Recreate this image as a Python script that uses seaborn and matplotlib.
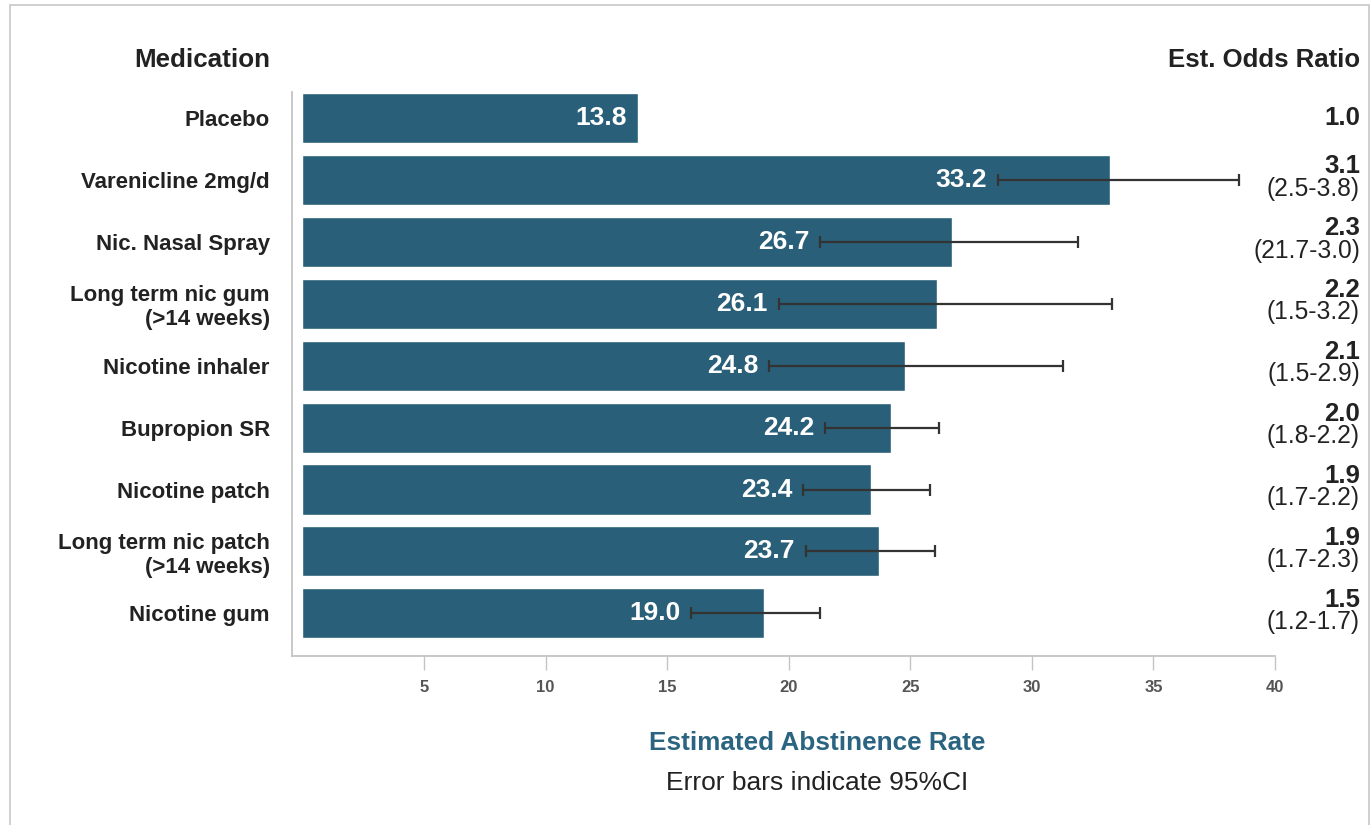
import matplotlib
matplotlib.use("Agg")
import matplotlib.pyplot as plt
from matplotlib.patches import Rectangle
from matplotlib.transforms import blended_transform_factory
import seaborn as sns
import pandas as pd
import numpy as np

# Smoking-cessation medications and their estimated abstinence rates (%)
medications = [
    "Placebo",
    "Varenicline 2mg/d",
    "Nic. Nasal Spray",
    "Long term nic gum\n(>14 weeks)",
    "Nicotine inhaler",
    "Bupropion SR",
    "Nicotine patch",
    "Long term nic patch\n(>14 weeks)",
    "Nicotine gum",
]
abstinence_rate = [13.8, 33.2, 26.7, 26.1, 24.8, 24.2, 23.4, 23.7, 19.0]
# 95% confidence interval of the abstinence rate (placebo has none shown)
ci_low = [np.nan, 28.6, 21.3, 19.6, 19.2, 21.5, 20.6, 20.7, 16.0]
ci_high = [np.nan, 38.5, 31.9, 33.3, 31.3, 26.2, 25.8, 26.0, 21.3]
# Estimated odds ratios vs placebo and their intervals
odds_ratio = ["1.0", "3.1", "2.3", "2.2", "2.1", "2.0", "1.9", "1.9", "1.5"]
odds_ci = ["", "(2.5-3.8)", "(21.7-3.0)", "(1.5-3.2)", "(1.5-2.9)",
           "(1.8-2.2)", "(1.7-2.2)", "(1.7-2.3)", "(1.2-1.7)"]
x_ticks = [5, 10, 15, 20, 25, 30, 35, 40]

BAR = "#295f78"
TEXT = "#222222"
TITLE = "#2b6480"
AXIS = "#c4c4c4"

sns.set_theme(style="white")
plt.rcParams["font.family"] = ["Liberation Sans", "DejaVu Sans"]

df = pd.DataFrame({"medication": medications, "rate": abstinence_rate})

fig = plt.figure(figsize=(13.71, 8.25), dpi=100)
ax = fig.add_axes([0.2130, 0.2048, 0.7170, 0.6836])

sns.barplot(data=df, x="rate", y="medication", orient="h", color=BAR,
            saturation=1, width=0.81, ax=ax)

# 95% CI whiskers
ypos = np.arange(len(medications))
lo = np.array(ci_low)
hi = np.array(ci_high)
mid = (lo + hi) / 2
ax.errorbar(mid, ypos, xerr=(hi - lo) / 2, fmt="none", ecolor="#333333",
            elinewidth=1.6, capsize=4.5, capthick=1.6, zorder=5)

# Value labels inside the bars, just left of the whisker
for i, v in enumerate(abstinence_rate):
    anchor = v if np.isnan(lo[i]) else lo[i]
    ax.annotate(f"{v:.1f}", xy=(anchor, i), xytext=(-8, 0),
                textcoords="offset points", ha="right", va="center",
                color="white", fontsize=19, fontweight="bold", zorder=6)

ax.set_xlim(-0.43, 40)
ax.set_ylim(8.69, -0.42)
ax.set_xticks(x_ticks)
ax.set_xticklabels([str(t) for t in x_ticks], fontsize=12,
                   fontweight="bold", color="#555555")
ax.tick_params(axis="x", direction="out", length=10, width=1, color=AXIS,
               pad=7, bottom=True)
ax.tick_params(axis="y", length=0, pad=16)
for lbl in ax.get_yticklabels():
    lbl.set_fontsize(16)
    lbl.set_fontweight("bold")
    lbl.set_color(TEXT)
ax.set_xlabel("")
ax.set_ylabel("")

for side in ("top", "right"):
    ax.spines[side].set_visible(False)
for side in ("left", "bottom"):
    ax.spines[side].set_color(AXIS)
    ax.spines[side].set_linewidth(1.3)

# Column headers
fig.text(270 / 1371, 1 - 60 / 825, "Medication", ha="right", va="center",
         fontsize=18.7, fontweight="bold", color=TEXT)
fig.text(1360 / 1371, 1 - 60 / 825, "Est. Odds Ratio", ha="right",
         va="center", fontsize=18.5, fontweight="bold", color=TEXT)

# Odds ratio column on the right
trans = blended_transform_factory(fig.transFigure, ax.transData)
for i, (orv, oci) in enumerate(zip(odds_ratio, odds_ci)):
    if oci:
        ax.text(1360 / 1371, i - 0.22, orv, transform=trans, ha="right",
                va="center", fontsize=18.5, fontweight="bold", color=TEXT,
                clip_on=False)
        ax.text(1360 / 1371, i + 0.14, oci, transform=trans, ha="right",
                va="center", fontsize=17.7, color=TEXT, clip_on=False)
    else:
        ax.text(1360 / 1371, i, orv, transform=trans, ha="right",
                va="center", fontsize=18.5, fontweight="bold", color=TEXT,
                clip_on=False)

# Axis title and note below the chart
fig.text(817 / 1371, 1 - 743 / 825, "Estimated Abstinence Rate",
         ha="center", va="center", fontsize=18.8, fontweight="bold",
         color=TITLE)
fig.text(817 / 1371, 1 - 783 / 825, "Error bars indicate 95%CI",
         ha="center", va="center", fontsize=19, color=TEXT)

# Light frame around the figure
fig.patches.append(Rectangle((10 / 1371, -0.05), (1369 - 10) / 1371,
                             1.05 - 5 / 825, transform=fig.transFigure,
                             fill=False, edgecolor="#cccccc", linewidth=1.3))

fig.savefig("out.png", dpi=100)
